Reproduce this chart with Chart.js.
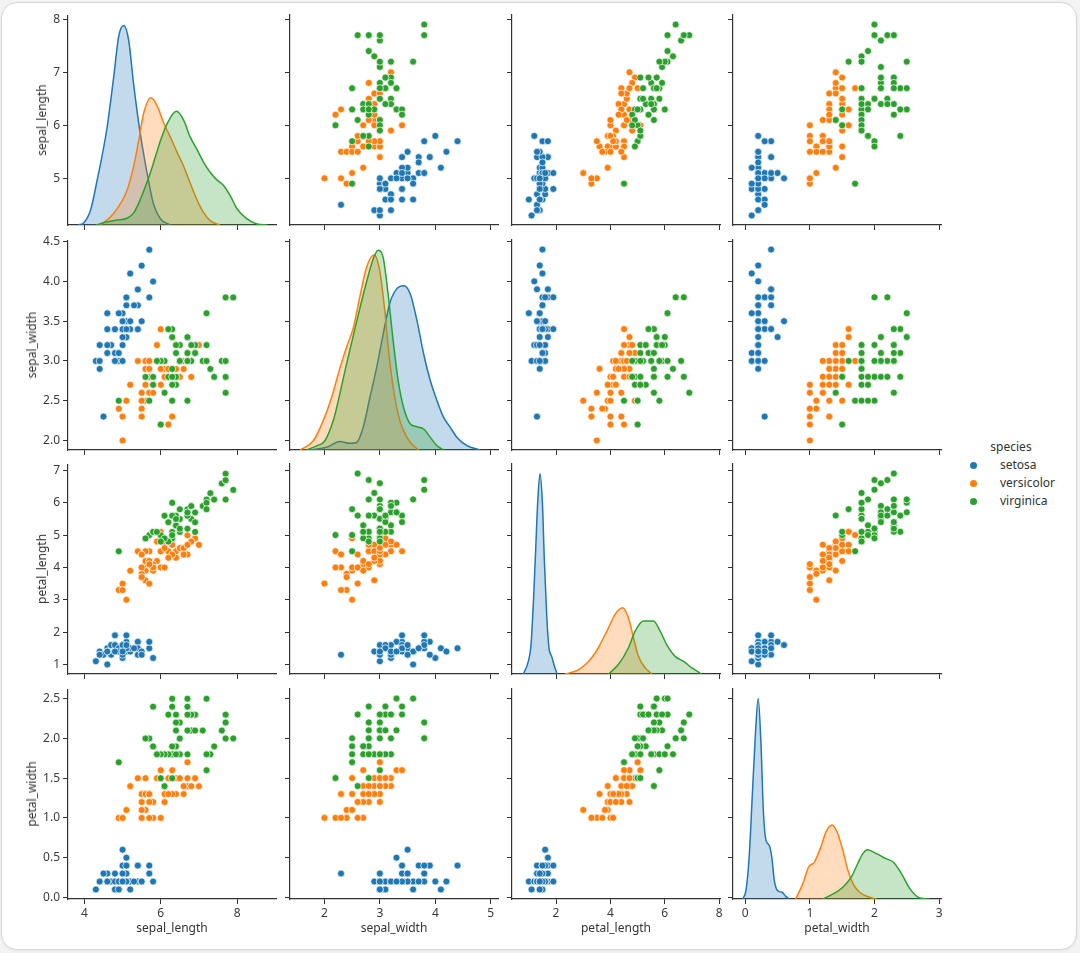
<!DOCTYPE html>
<html>
<head>
<meta charset="utf-8">
<script src="https://cdn.jsdelivr.net/npm/chart.js@4.4.1/dist/chart.umd.min.js"></script>
<style>
  html, body { margin: 0; padding: 0; background: #f3f3f3; width: 1080px; height: 953px; overflow: hidden; }
  #card { position: absolute; left: 1px; top: 2px; width: 1074px; height: 946px; background: #fff;
          border: 1px solid #d6d6d6; border-radius: 16px; box-shadow: 0 1px 3px rgba(0,0,0,0.06); }
  canvas { position: absolute; }
  .ytitle { position: absolute; font-family: "Noto Sans", "DejaVu Sans", sans-serif; font-size: 12px; color: #333;
            white-space: nowrap; transform: translate(-50%, -50%) rotate(-90deg); line-height: 14px; }
  #legend { position: absolute; left: 960px; top: 438px; font-family: "Noto Sans", "DejaVu Sans", sans-serif;
            font-size: 12px; color: #333; }
  #legend .title { position: absolute; left: 26px; top: 0; width: 50px; text-align: center; white-space: nowrap; }
  #legend .item { position: absolute; left: 40px; white-space: nowrap; }
  #legend .dot { position: absolute; left: 10px; width: 7px; height: 7px; border-radius: 50%; }
</style>
</head>
<body>
<div id="card"></div>
<div id="legend"></div>
<script>
// iris measurements, one array per species and variable
const setosaSepalLength = [5.1,4.9,4.7,4.6,5.0,5.4,4.6,5.0,4.4,4.9,5.4,4.8,4.8,4.3,5.8,5.7,5.4,5.1,5.7,5.1,5.4,5.1,4.6,5.1,4.8,5.0,5.0,5.2,5.2,4.7,4.8,5.4,5.2,5.5,4.9,5.0,5.5,4.9,4.4,5.1,5.0,4.5,4.4,5.0,5.1,4.8,5.1,4.6,5.3,5.0];
const setosaSepalWidth = [3.5,3.0,3.2,3.1,3.6,3.9,3.4,3.4,2.9,3.1,3.7,3.4,3.0,3.0,4.0,4.4,3.9,3.5,3.8,3.8,3.4,3.7,3.6,3.3,3.4,3.0,3.4,3.5,3.4,3.2,3.1,3.4,4.1,4.2,3.1,3.2,3.5,3.6,3.0,3.4,3.5,2.3,3.2,3.5,3.8,3.0,3.8,3.2,3.7,3.3];
const setosaPetalLength = [1.4,1.4,1.3,1.5,1.4,1.7,1.4,1.5,1.4,1.5,1.5,1.6,1.4,1.1,1.2,1.5,1.3,1.4,1.7,1.5,1.7,1.5,1.0,1.7,1.9,1.6,1.6,1.5,1.4,1.6,1.6,1.5,1.5,1.4,1.5,1.2,1.3,1.4,1.3,1.5,1.3,1.3,1.3,1.6,1.9,1.4,1.6,1.4,1.5,1.4];
const setosaPetalWidth = [0.2,0.2,0.2,0.2,0.2,0.4,0.3,0.2,0.2,0.1,0.2,0.2,0.1,0.1,0.2,0.4,0.4,0.3,0.3,0.3,0.2,0.4,0.2,0.5,0.2,0.2,0.4,0.2,0.2,0.2,0.2,0.4,0.1,0.2,0.2,0.2,0.2,0.1,0.2,0.2,0.3,0.3,0.2,0.6,0.4,0.3,0.2,0.2,0.2,0.2];

const versicolorSepalLength = [7.0,6.4,6.9,5.5,6.5,5.7,6.3,4.9,6.6,5.2,5.0,5.9,6.0,6.1,5.6,6.7,5.6,5.8,6.2,5.6,5.9,6.1,6.3,6.1,6.4,6.6,6.8,6.7,6.0,5.7,5.5,5.5,5.8,6.0,5.4,6.0,6.7,6.3,5.6,5.5,5.5,6.1,5.8,5.0,5.6,5.7,5.7,6.2,5.1,5.7];
const versicolorSepalWidth = [3.2,3.2,3.1,2.3,2.8,2.8,3.3,2.4,2.9,2.7,2.0,3.0,2.2,2.9,2.9,3.1,3.0,2.7,2.2,2.5,3.2,2.8,2.5,2.8,2.9,3.0,2.8,3.0,2.9,2.6,2.4,2.4,2.7,2.7,3.0,3.4,3.1,2.3,3.0,2.5,2.6,3.0,2.6,2.3,2.7,3.0,2.9,2.9,2.5,2.8];
const versicolorPetalLength = [4.7,4.5,4.9,4.0,4.6,4.5,4.7,3.3,4.6,3.9,3.5,4.2,4.0,4.7,3.6,4.4,4.5,4.1,4.5,3.9,4.8,4.0,4.9,4.7,4.3,4.4,4.8,5.0,4.5,3.5,3.8,3.7,3.9,5.1,4.5,4.5,4.7,4.4,4.1,4.0,4.4,4.6,4.0,3.3,4.2,4.2,4.2,4.3,3.0,4.1];
const versicolorPetalWidth = [1.4,1.5,1.5,1.3,1.5,1.3,1.6,1.0,1.3,1.4,1.0,1.5,1.0,1.4,1.3,1.4,1.5,1.0,1.5,1.1,1.8,1.3,1.5,1.2,1.3,1.4,1.4,1.7,1.5,1.0,1.1,1.0,1.2,1.6,1.5,1.6,1.5,1.3,1.3,1.3,1.2,1.4,1.2,1.0,1.3,1.2,1.3,1.3,1.1,1.3];

const virginicaSepalLength = [6.3,5.8,7.1,6.3,6.5,7.6,4.9,7.3,6.7,7.2,6.5,6.4,6.8,5.7,5.8,6.4,6.5,7.7,7.7,6.0,6.9,5.6,7.7,6.3,6.7,7.2,6.2,6.1,6.4,7.2,7.4,7.9,6.4,6.3,6.1,7.7,6.3,6.4,6.0,6.9,6.7,6.9,5.8,6.8,6.7,6.7,6.3,6.5,6.2,5.9];
const virginicaSepalWidth = [3.3,2.7,3.0,2.9,3.0,3.0,2.5,2.9,2.5,3.6,3.2,2.7,3.0,2.5,2.8,3.2,3.0,3.8,2.6,2.2,3.2,2.8,2.8,2.7,3.3,3.2,2.8,3.0,2.8,3.0,2.8,3.8,2.8,2.8,2.6,3.0,3.4,3.1,3.0,3.1,3.1,3.1,2.7,3.2,3.3,3.0,2.5,3.0,3.4,3.0];
const virginicaPetalLength = [6.0,5.1,5.9,5.6,5.8,6.6,4.5,6.3,5.8,6.1,5.1,5.3,5.5,5.0,5.1,5.3,5.5,6.7,6.9,5.0,5.7,4.9,6.7,4.9,5.7,6.0,4.8,4.9,5.6,5.8,6.1,6.4,5.6,5.1,5.6,6.1,5.6,5.5,4.8,5.4,5.6,5.1,5.1,5.9,5.7,5.2,5.0,5.2,5.4,5.1];
const virginicaPetalWidth = [2.5,1.9,2.1,1.8,2.2,2.1,1.7,1.8,1.8,2.5,2.0,1.9,2.1,2.0,2.4,2.3,1.8,2.2,2.3,1.5,2.3,2.0,2.0,1.8,2.1,1.8,1.8,1.8,2.1,1.6,1.9,2.0,2.2,1.5,1.4,2.3,2.4,1.8,1.8,2.1,2.4,2.3,1.9,2.3,2.5,2.3,1.9,2.0,2.3,1.8];

// density curves: [value, height as share of the panel]
const kdeSlSetosa = [[3.83,0],[3.98,0.01],[4.16,0.07],[4.33,0.21],[4.59,0.46],[4.77,0.71],[4.90,0.90],[5.03,0.951],[5.16,0.88],[5.29,0.67],[5.46,0.44],[5.64,0.25],[5.81,0.10],[5.99,0.03],[6.25,0]];
const kdeSlVersicolor = [[4.42,0],[4.77,0.056],[5.12,0.167],[5.29,0.28],[5.42,0.40],[5.55,0.53],[5.74,0.606],[5.90,0.57],[6.07,0.49],[6.25,0.42],[6.42,0.35],[6.60,0.28],[6.77,0.20],[6.95,0.12],[7.12,0.06],[7.30,0.02],[7.55,0]];
const kdeSlVirginica = [[4.30,0],[4.60,0.015],[4.85,0.024],[5.12,0.032],[5.30,0.06],[5.46,0.12],[5.73,0.25],[5.99,0.40],[6.16,0.48],[6.41,0.542],[6.60,0.50],[6.77,0.42],[6.95,0.36],[7.12,0.30],[7.30,0.25],[7.47,0.215],[7.64,0.19],[7.82,0.14],[7.99,0.08],[8.25,0.03],[8.52,0.005],[8.80,0]];

const kdeSwSetosa = [[1.74,0],[2.04,0.013],[2.28,0.04],[2.46,0.032],[2.58,0.036],[2.70,0.108],[2.82,0.25],[2.94,0.39],[3.06,0.552],[3.18,0.70],[3.30,0.766],[3.43,0.782],[3.55,0.742],[3.67,0.615],[3.79,0.457],[3.91,0.33],[4.03,0.235],[4.15,0.155],[4.27,0.108],[4.39,0.06],[4.57,0.021],[4.81,0]];
const kdeSwVersicolor = [[1.56,0],[1.80,0.044],[1.98,0.14],[2.13,0.25],[2.28,0.39],[2.40,0.49],[2.52,0.58],[2.64,0.73],[2.76,0.87],[2.90,0.928],[3.00,0.85],[3.09,0.66],[3.15,0.49],[3.24,0.30],[3.33,0.17],[3.43,0.09],[3.55,0.036],[3.70,0]];
const kdeSwVirginica = [[1.68,0],[1.86,0.02],[2.01,0.044],[2.16,0.14],[2.22,0.20],[2.40,0.41],[2.58,0.61],[2.76,0.80],[2.88,0.91],[2.97,0.951],[3.06,0.916],[3.15,0.74],[3.24,0.52],[3.33,0.33],[3.43,0.20],[3.55,0.124],[3.67,0.111],[3.79,0.10],[3.91,0.06],[4.03,0.02],[4.15,0]];

const kdePlSetosa = [[0.80,0],[0.98,0.06],[1.08,0.14],[1.17,0.35],[1.25,0.59],[1.33,0.83],[1.41,0.953],[1.50,0.81],[1.57,0.54],[1.66,0.27],[1.74,0.124],[1.84,0.084],[1.94,0.037],[2.04,0]];
const kdePlVersicolor = [[2.33,0],[2.82,0.02],[3.19,0.06],[3.44,0.10],[3.68,0.156],[3.93,0.22],[4.17,0.284],[4.45,0.316],[4.66,0.268],[4.85,0.172],[5.03,0.084],[5.28,0.029],[5.52,0]];
const kdePlVirginica = [[3.93,0],[4.29,0.045],[4.66,0.124],[4.91,0.204],[5.21,0.252],[5.58,0.252],[5.83,0.204],[6.07,0.14],[6.38,0.084],[6.69,0.06],[7.00,0.029],[7.36,0]];

const kdePwSetosa = [[-0.04,0],[0.01,0.04],[0.06,0.2],[0.11,0.5],[0.155,0.775],[0.20,0.955],[0.243,0.74],[0.28,0.42],[0.32,0.28],[0.37,0.256],[0.41,0.2],[0.45,0.088],[0.50,0.04],[0.57,0.032],[0.63,0.011],[0.69,0]];
const kdePwVersicolor = [[0.78,0],[0.89,0.072],[0.98,0.152],[1.07,0.176],[1.17,0.248],[1.25,0.32],[1.345,0.352],[1.43,0.312],[1.51,0.232],[1.59,0.136],[1.67,0.072],[1.77,0.032],[1.92,0.008],[2.03,0]];
const kdePwVirginica = [[1.20,0],[1.36,0.024],[1.51,0.056],[1.64,0.104],[1.74,0.168],[1.82,0.216],[1.89,0.235],[2.03,0.216],[2.18,0.192],[2.29,0.176],[2.42,0.12],[2.55,0.048],[2.70,0.005],[2.86,0]];

const variables = ['sepal_length', 'sepal_width', 'petal_length', 'petal_width'];
const species = ['setosa', 'versicolor', 'virginica'];
const colors = ['#1f77b4', '#ff7f0e', '#2ca02c'];
const fills = ['rgba(31,119,180,0.27)', 'rgba(255,127,14,0.27)', 'rgba(44,160,44,0.27)'];

// axis ranges and ticks per variable
const axisRanges = [[3.57, 9.02], [1.38, 5.13], [0.38, 8.03], [-0.19, 3.03]];
const rowRanges = [[4.12, 8.08], [1.88, 4.52], [0.705, 7.195], [-0.02, 2.62]];
const xTicks = [[4, 6, 8], [2, 3, 4, 5], [2, 4, 6, 8], [0, 1, 2, 3]];
const yTicks = [[5, 6, 7, 8], [2.0, 2.5, 3.0, 3.5, 4.0, 4.5], [1, 2, 3, 4, 5, 6, 7], [0.0, 0.5, 1.0, 1.5, 2.0, 2.5]];
const yTickLabels = [['5', '6', '7', '8'], ['2.0', '2.5', '3.0', '3.5', '4.0', '4.5'],
                     ['1', '2', '3', '4', '5', '6', '7'], ['0.0', '0.5', '1.0', '1.5', '2.0', '2.5']];

const measures = [
  [setosaSepalLength, versicolorSepalLength, virginicaSepalLength],
  [setosaSepalWidth, versicolorSepalWidth, virginicaSepalWidth],
  [setosaPetalLength, versicolorPetalLength, virginicaPetalLength],
  [setosaPetalWidth, versicolorPetalWidth, virginicaPetalWidth]
];
const densities = [
  [kdeSlSetosa, kdeSlVersicolor, kdeSlVirginica],
  [kdeSwSetosa, kdeSwVersicolor, kdeSwVirginica],
  [kdePlSetosa, kdePlVersicolor, kdePlVirginica],
  [kdePwSetosa, kdePwVersicolor, kdePwVirginica]
];

Chart.defaults.font.family = '"Noto Sans", "DejaVu Sans", sans-serif';
Chart.defaults.color = '#3a3a3a';

const PANEL_W = 208, PANEL_H = 210;
const AXIS_W = 68, AXIS_H = 45, PAD = 10;
const colLeft = c => Math.round(68 + c * 221.8);
const rowTop = r => Math.round(15 + r * 224.5);
// y titles sit further left when the tick labels carry a decimal
const yTitleX = [42, 32, 42, 32];

function makePanel(r, c) {
  const canvas = document.createElement('canvas');
  canvas.width = AXIS_W + PANEL_W + PAD;
  canvas.height = PAD + PANEL_H + AXIS_H;
  canvas.style.left = (colLeft(c) - AXIS_W) + 'px';
  canvas.style.top = (rowTop(r) - PAD) + 'px';
  document.body.appendChild(canvas);

  let datasets;
  if (r === c) {
    datasets = densities[c].map((curve, s) => ({
      label: species[s],
      data: curve.map(([x, y]) => ({ x, y })),
      yAxisID: 'yd',
      showLine: true,
      fill: 'origin',
      borderColor: colors[s],
      backgroundColor: fills[s],
      borderWidth: 1.5,
      pointRadius: 0,
      cubicInterpolationMode: 'monotone',
      order: 2 - s
    }));
  } else {
    datasets = species.map((name, s) => ({
      label: name,
      data: measures[c][s].map((x, i) => ({ x, y: measures[r][s][i] })),
      yAxisID: 'y',
      backgroundColor: colors[s],
      borderColor: '#ffffff',
      borderWidth: 0.7,
      pointRadius: 3.5,
      order: 2 - s
    }));
  }

  const tickGrid = { display: true, drawOnChartArea: false, drawTicks: true, tickLength: 5, color: '#333', lineWidth: 1 };
  const isLeft = c === 0, isBottom = r === 3;

  new Chart(canvas, {
    type: 'scatter',
    data: { datasets },
    options: {
      responsive: false,
      animation: false,
      devicePixelRatio: 1,
      layout: { autoPadding: false, padding: { left: 0, top: PAD, right: PAD, bottom: 0 } },
      plugins: { legend: { display: false }, tooltip: { enabled: false } },
      scales: {
        x: {
          type: 'linear',
          min: axisRanges[c][0], max: axisRanges[c][1],
          grid: tickGrid,
          border: { display: true, color: '#333', width: 1.2 },
          afterBuildTicks: s => { s.ticks = xTicks[c].map(v => ({ value: v })); },
          afterFit: s => { s.height = AXIS_H; },
          ticks: { display: isBottom, padding: 2, font: { size: 12 }, maxRotation: 0,
                   callback: v => String(v) },
          title: { display: isBottom, text: variables[c], font: { size: 12 }, color: '#333',
                   padding: { top: 0, bottom: 8 } }
        },
        y: {
          type: 'linear',
          position: 'left',
          min: rowRanges[r][0], max: rowRanges[r][1],
          grid: tickGrid,
          border: { display: true, color: '#333', width: 1.2 },
          afterBuildTicks: s => { s.ticks = yTicks[r].map(v => ({ value: v })); },
          afterFit: s => { s.width = AXIS_W; },
          ticks: { display: isLeft, padding: 3, font: { size: 12 },
                   callback: v => yTickLabels[r][yTicks[r].indexOf(v)] }
        },
        yd: { type: 'linear', display: false, min: 0, max: 1 }
      }
    }
  });

  if (isLeft) {
    const t = document.createElement('div');
    t.className = 'ytitle';
    t.textContent = variables[r];
    t.style.left = yTitleX[r] + 'px';
    t.style.top = (rowTop(r) + PANEL_H / 2) + 'px';
    document.body.appendChild(t);
  }
}

for (let r = 0; r < 4; r++) {
  for (let c = 0; c < 4; c++) makePanel(r, c);
}

// legend
const legend = document.getElementById('legend');
const title = document.createElement('div');
title.className = 'title';
title.textContent = 'species';
legend.appendChild(title);
species.forEach((name, s) => {
  const dot = document.createElement('div');
  dot.className = 'dot';
  dot.style.background = colors[s];
  dot.style.top = (24 + s * 18) + 'px';
  legend.appendChild(dot);
  const item = document.createElement('div');
  item.className = 'item';
  item.textContent = name;
  item.style.top = (18 + s * 18) + 'px';
  legend.appendChild(item);
});
</script>
</body>
</html>
